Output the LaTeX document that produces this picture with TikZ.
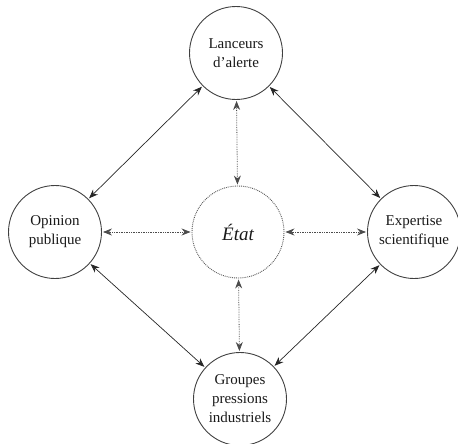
\documentclass[tikz,border=0pt]{standalone}
\usepackage{fontspec}
\setmainfont{Liberation Serif}
\usetikzlibrary{arrows.meta}
\begin{document}
\begin{tikzpicture}[x=1pt,y=-1pt,
  actor/.style={circle, draw=black!75, line width=0.9pt, minimum size=93pt, inner sep=0pt, align=center, font=\fontsize{15}{19}\selectfont, text=black!90},
  statebox/.style={circle, draw=black!65, densely dotted, line width=0.9pt, minimum size=92pt, inner sep=0pt, font=\fontsize{19}{22}\selectfont\itshape, text=black!90},
  link/.style={{Stealth[length=9pt,width=7pt]}-{Stealth[length=9pt,width=7pt]}, line width=0.7pt, draw=black!85, shorten <=1pt, shorten >=1pt},
  dlink/.style={link, densely dotted, line width=0.8pt, draw=black!70}]
\useasboundingbox (0,0) rectangle (458,444);
\node[actor] (lanceurs) at (236,53) {Lanceurs\\d'alerte};
\node[actor] (opinion) at (55,232) {Opinion\\publique};
\node[actor] (expertise) at (414,232) {Expertise\\scientifique};
\node[actor] (groupes) at (240,399) {Groupes\\pressions\\industriels};
\node[statebox] (etat) at (238,232) {État};
\draw[link] (lanceurs) -- (opinion);
\draw[link] (lanceurs) -- (expertise);
\draw[link] (opinion) -- (groupes);
\draw[link] (expertise) -- (groupes);
\draw[dlink] (lanceurs) -- (etat);
\draw[dlink] (opinion) -- (etat);
\draw[dlink] (expertise) -- (etat);
\draw[dlink] (groupes) -- (etat);
\end{tikzpicture}
\end{document}
